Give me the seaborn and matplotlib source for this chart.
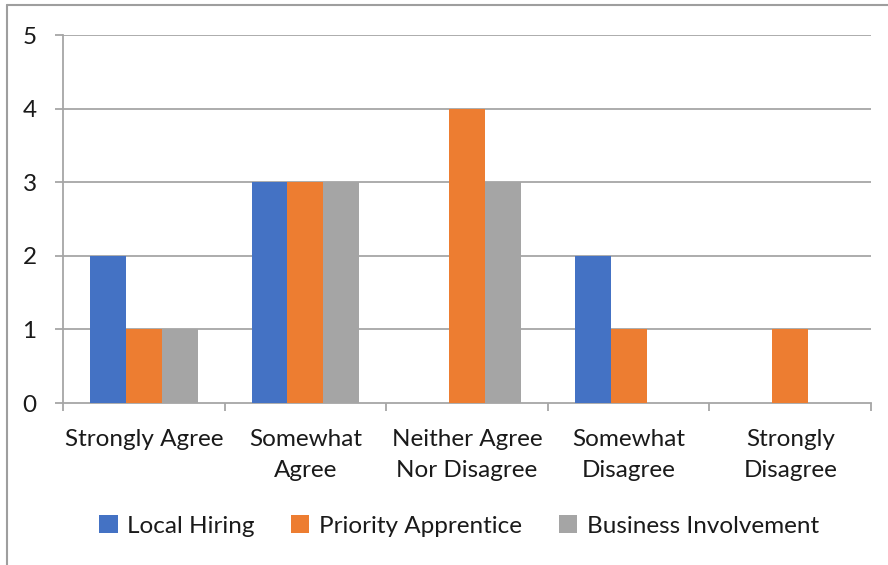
import matplotlib
matplotlib.use("Agg")
import matplotlib.pyplot as plt
from matplotlib.lines import Line2D
from matplotlib.patches import Patch
import seaborn as sns
import pandas as pd

categories = ["Strongly Agree", "Somewhat\nAgree", "Neither Agree\nNor Disagree",
              "Somewhat\nDisagree", "Strongly\nDisagree"]
series = ["Local Hiring", "Priority Apprentice", "Business Involvement"]
local_hiring = [2, 3, 0, 2, 0]
priority_apprentice = [1, 3, 4, 1, 1]
business_involvement = [1, 3, 3, 0, 0]
y_ticks = [0, 1, 2, 3, 4, 5]
colors = ["#4472C4", "#ED7D31", "#A5A5A5"]

rows = []
for name, vals in zip(series, [local_hiring, priority_apprentice, business_involvement]):
    for cat, v in zip(categories, vals):
        rows.append({"category": cat, "series": name, "value": v})
df = pd.DataFrame(rows)

sns.set_theme(style="white")
plt.rcParams["font.family"] = ["Lato", "DejaVu Sans"]
plt.rcParams["text.color"] = "#1A1A1A"

fig = plt.figure(figsize=(8.88, 5.65), dpi=100)
ax = fig.add_axes([63 / 888, 1 - 403 / 565, (871 - 63) / 888, (403 - 35) / 565])

sns.barplot(data=df, x="category", y="value", hue="series", order=categories,
            hue_order=series, palette=colors, width=0.665, gap=0,
            saturation=1, linewidth=0, ax=ax, legend=False, zorder=3)

grid_c = "#A6A6A6"
fs = 17.5
ax.set_xlim(-0.5, len(categories) - 0.5)
ax.set_ylim(0, 5)
ax.set_yticks(y_ticks)
ax.set_yticklabels([str(t) for t in y_ticks])
for t in y_ticks[1:]:
    ax.axhline(t, color=grid_c, lw=1.3, zorder=1)
ax.set_xlabel("")
ax.set_ylabel("")

for s in ["top", "right"]:
    ax.spines[s].set_visible(False)
for s in ["left", "bottom"]:
    ax.spines[s].set_color(grid_c)
    ax.spines[s].set_linewidth(1.3)

ax.tick_params(axis="y", direction="out", length=6, width=1.3, color=grid_c,
               labelsize=fs, labelcolor="#1A1A1A", pad=13, left=True)
ax.tick_params(axis="x", which="major", length=0, labelsize=fs,
               labelcolor="#1A1A1A", pad=18.5)
ax.set_xticks([i - 0.5 for i in range(len(categories) + 1)], minor=True)
ax.tick_params(axis="x", which="minor", direction="out", length=6, width=1.3,
               color=grid_c, bottom=True)
for lbl in ax.get_xticklabels():
    lbl.set_linespacing(1.6)

handles = [Patch(facecolor=c, edgecolor="none") for c in colors]
fig.legend(handles, series, loc="center", bbox_to_anchor=(459 / 888, 1 - 526 / 565),
           ncol=3, frameon=False, fontsize=fs, handlelength=0.75, handleheight=0.75,
           handletextpad=0.4, columnspacing=1.5)

# chart border along the top and left
border = "#9E9E9E"
fig.add_artist(Line2D([7 / 888, 1], [1 - 5 / 565, 1 - 5 / 565], color=border, lw=1.5,
                      transform=fig.transFigure))
fig.add_artist(Line2D([7 / 888, 7 / 888], [0, 1 - 5 / 565], color=border, lw=1.5,
                      transform=fig.transFigure))

fig.savefig("out.png", dpi=100)
